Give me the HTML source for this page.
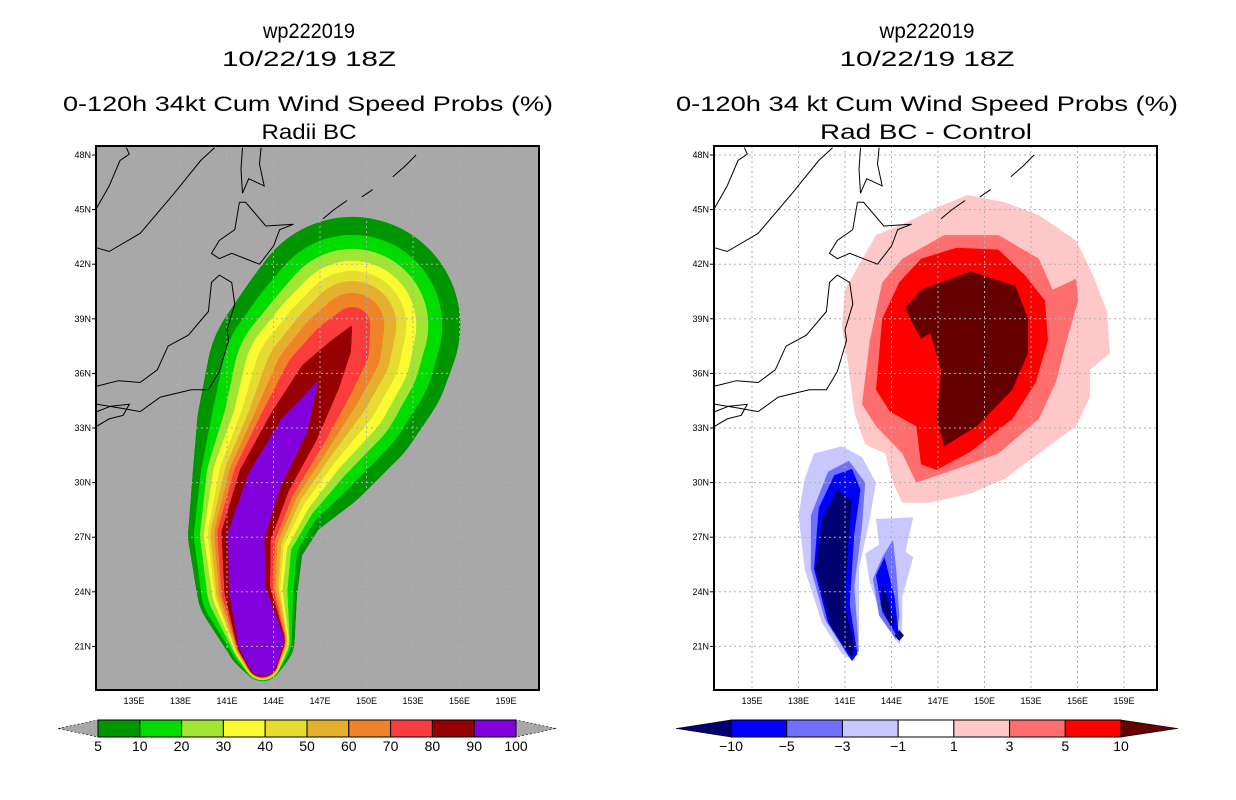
<!DOCTYPE html>
<html><head><meta charset="utf-8"><style>
html,body{margin:0;padding:0;background:#fff;}
svg{display:block;font-family:"Liberation Sans","DejaVu Sans",sans-serif;}
</style></head><body>
<svg id="root" width="1236" height="800" viewBox="0 0 1236 800" xmlns="http://www.w3.org/2000/svg">
<defs>
<clipPath id="clipL"><rect x="96" y="146" width="443" height="544"/></clipPath>
<clipPath id="clipR"><rect x="714" y="146" width="443" height="544"/></clipPath>
</defs>
<g font-size="21" text-anchor="middle" fill="#000">
<text x="309" y="38" textLength="92" lengthAdjust="spacingAndGlyphs">wp222019</text>
<text x="309" y="66" textLength="174" lengthAdjust="spacingAndGlyphs">10/22/19 18Z</text>
<text x="308" y="111" textLength="490" lengthAdjust="spacingAndGlyphs">0-120h 34kt Cum Wind Speed Probs (%)</text>
<text x="309" y="139" textLength="95" lengthAdjust="spacingAndGlyphs">Radii BC</text>
</g>
<g font-size="21" text-anchor="middle" fill="#000">
<text x="927" y="38" textLength="95" lengthAdjust="spacingAndGlyphs">wp222019</text>
<text x="927" y="66" textLength="175" lengthAdjust="spacingAndGlyphs">10/22/19 18Z</text>
<text x="927" y="111" textLength="502" lengthAdjust="spacingAndGlyphs">0-120h 34 kt Cum Wind Speed Probs (%)</text>
<text x="926" y="139" textLength="212" lengthAdjust="spacingAndGlyphs">Rad BC - Control</text>
</g>
<g id="mapL"></g>
<g id="mapR"></g>
<g id="cbL"></g>
<g id="cbR"></g>
</svg>
<script>
const NS="http://www.w3.org/2000/svg";
// ---- data ----
const latTicks=[48,45,42,39,36,33,30,27,24,21];
const lonTicks=[135,138,141,144,147,150,153,156,159];
const probLevels=[5,10,20,30,40,50,60,70,80,90,100];
const probColors=["#009600","#00dc00","#a0e632","#fafa32","#e6dc32","#e6af2d","#f08228","#fa3c3c","#960000","#8200dc"];
const diffLevels=[-10,-5,-3,-1,1,3,5,10];
const diffColors=["#0000ff","#7070ff","#c8c8ff","#ffffff","#ffc8c8","#ff6e6e","#ff0000"];
const diffLowColor="#000070", diffHighColor="#640000";
// storm track centerline [lat,lon]
const trackLat=[20.14,21.35,24.1,27.12,30.14,33.0,35.64,37.29,38.66];
const trackLon=[143.29,143.16,142.3,142.24,143.42,145.26,146.91,148.22,149.08];
// probability swath radii (degrees) per level (5%..90%) at each track point
const radii5 =[1.05,1.87,2.75,3.19,3.96,5.28,6.16,6.16,5.94];
const radii10=[1.02,1.71,2.53,2.86,3.52,4.51,5.34,5.28,4.95];
const radii20=[0.99,1.6,2.2,2.53,3.19,3.85,4.68,4.51,4.18];
const radii30=[0.96,1.54,1.93,2.31,2.86,3.36,4.13,3.96,3.52];
const radii40=[0.94,1.49,1.8,2.1,2.53,2.97,3.58,3.41,2.97];
const radii50=[0.91,1.45,1.7,1.95,2.25,2.59,3.03,2.86,2.42];
const radii60=[0.88,1.4,1.55,1.75,2.0,2.25,2.48,2.31,1.76];
const radii70=[0.85,1.35,1.42,1.58,1.75,1.9,1.93,1.65,0.99];
const radii80=[0.83,1.32,1.25,1.35,1.45,1.45,1.2,0.66,0];
const radii90=[0.77,1.25,1.0,1.0,0.95,0.8,0,0,0];
// difference field contours [lat,lon]
const diffPos1=[[40.6,141.0],[43.6,143.0],[44.2,144.7],[45.1,146.9],[45.8,148.9],[45.4,151.3],[44.7,153.5],[43.3,155.9],[41.4,157.0],[39.4,157.9],[37.1,158.1],[36.2,156.8],[34.7,156.8],[33.1,155.9],[31.6,153.5],[30.2,151.3],[29.4,149.1],[28.9,146.5],[28.9,144.7],[30.0,144.1],[31.6,143.6],[32.1,142.3],[33.9,141.6],[36.2,141.25],[38.6,140.8]];
const diffPos3=[[41.0,143.4],[42.3,144.7],[43.6,147.4],[43.6,150.9],[42.3,153.5],[40.6,154.4],[41.2,155.9],[40.0,156.05],[37.8,155.3],[35.5,154.6],[33.5,153.5],[31.6,150.9],[30.75,148.2],[30.0,145.6],[31.6,144.7],[33.1,143.0],[34.3,142.1],[37.8,142.6]];
const diffPos5=[[41.0,144.5],[42.3,145.9],[42.9,148.2],[42.8,150.9],[41.4,152.6],[40.0,153.9],[37.8,154.1],[35.5,153.3],[33.5,151.8],[31.7,149.1],[30.7,146.9],[31.0,145.9],[33.1,145.6],[33.9,143.9],[35.1,143.0],[39.0,143.4]];
const diffPos10=[[39.6,144.9],[40.6,145.9],[41.6,149.1],[40.8,152.0],[39.0,152.8],[37.1,152.8],[35.1,151.8],[33.1,149.5],[32.0,147.4],[33.5,146.9],[36.2,147.2],[38.2,146.5],[37.9,145.9],[39.0,145.2]];
const diffNegA1=[[31.6,139.0],[32.0,140.8],[31.4,142.1],[30.0,143.0],[28.0,142.6],[25.25,141.9],[21.35,141.9],[20.2,141.6],[20.6,140.8],[22.3,139.5],[25.25,138.4],[28.2,138.0],[30.2,138.4]];
const diffNegA3=[[30.6,139.9],[31.2,141.25],[30.0,142.3],[27.6,142.1],[24.3,141.6],[20.75,141.9],[20.4,141.25],[22.5,139.7],[25.25,138.8],[28.2,138.8]];
const diffNegA5=[[30.4,140.3],[30.75,141.45],[29.6,142.0],[27.2,141.6],[23.3,141.3],[20.6,141.8],[20.2,141.45],[22.3,139.9],[25.25,139.0],[28.6,139.3]];
const diffNegA10=[[29.6,140.5],[29.0,141.45],[27.2,141.25],[23.3,141.0],[21.0,141.6],[20.4,141.45],[22.1,140.1],[25.25,139.1],[28.0,139.5]];
const diffNegB1=[[28.0,143.0],[28.1,145.4],[26.2,144.9],[25.9,145.4],[23.7,144.7],[21.95,144.7],[21.1,144.5],[22.5,143.4],[24.5,142.6],[26.1,142.3],[26.6,143.2]];
const diffNegB3=[[26.85,144.1],[25.25,144.3],[22.7,144.5],[21.35,144.3],[22.7,143.2],[24.7,142.8],[25.9,143.4]];
const diffNegB5=[[25.9,143.55],[23.7,144.2],[21.35,144.5],[22.9,143.4],[24.9,143.0]];
const diffNegB10=[[24.5,143.4],[22.3,144.2],[22.1,143.95],[23.3,143.3]];
const diffNegB10b=[[21.9,144.5],[21.6,144.8],[21.3,144.5],[21.6,144.2]];
// coastlines [lat,lon]
const coasts=[
 [[42.9,132.6],[42.7,133.4],[43.7,135.4],[45.9,137.6],[47.7,139.3],[48.4,140.2]],
 [[45.1,132.6],[46.3,133.4],[47.7,134.1],[48.05,134.7],[48.4,134.5]],
 [[48.4,142.0],[47.2,141.9],[45.9,142.0],[46.7,142.4],[46.3,143.4],[47.5,143.1],[48.4,143.2]],
 [[45.4,141.8],[43.9,141.5],[43.3,140.5],[42.6,140.0],[42.3,140.5],[42.6,141.3],[42.0,143.1],[43.0,144.0],[43.9,144.4],[44.2,145.3],[44.1,143.5],[45.4,142.2],[45.4,141.8]],
 [[41.4,140.5],[41.0,141.3],[39.8,141.5],[38.4,141.0],[37.8,141.1],[36.1,140.5],[35.1,139.8],[35.1,138.7],[34.7,136.7],[33.9,135.4],[34.1,134.1],[34.3,132.6]],
 [[41.4,140.5],[41.0,140.0],[39.4,139.8],[38.1,138.5],[37.5,137.2],[36.2,136.5],[35.5,135.4],[35.6,134.0],[35.3,132.6]],
 [[33.1,132.6],[33.5,133.4],[33.7,134.3],[34.3,134.7],[34.2,133.5],[33.9,132.6]],
 [[44.5,147.2],[45.0,147.9],[45.5,148.75]],
 [[45.7,149.7],[46.1,150.4]],
 [[46.8,151.7],[47.4,152.5],[48.0,153.2]]
];
// ---- helpers ----
function mk(tag,attrs,parent){const e=document.createElementNS(NS,tag);for(const k in attrs)e.setAttribute(k,attrs[k]);parent.appendChild(e);return e;}
function xs(lon,off){return 134+off+(lon-135)*15.5;}
function ys(lat){return 155+(48-lat)*18.2;}
function polyPts(arr,off){return arr.map(p=>xs(p[1],off).toFixed(1)+","+ys(p[0]).toFixed(1)).join(" ");}

function drawMap(g,off,bg,clip){
  const r=mk("rect",{x:96+off,y:146,width:443,height:544,fill:bg},g);
  
  
  const inner=mk("g",{"clip-path":"url(#"+clip+")"},g);
  return inner;
}
function drawGridAndFrame(g,inner,off){
  const grid=mk("g",{stroke:"#b0b0b0","stroke-width":1,"stroke-dasharray":"2,3"},inner);
  
  
  latTicks.forEach(l=>mk("line",{x1:96+off,x2:539+off,y1:ys(l),y2:ys(l)},grid));
  lonTicks.forEach(l=>mk("line",{x1:xs(l,off),x2:xs(l,off),y1:146,y2:690},grid));
  const cg=mk("g",{fill:"none",stroke:"#000","stroke-width":1},inner);
  
  
  coasts.forEach(c=>mk("polyline",{points:polyPts(c,off)},cg));
  const fr=mk("rect",{x:96+off,y:146,width:443,height:544,fill:"none",stroke:"#000","stroke-width":2},g);
  
  
  const ax=mk("g",{"font-size":9,fill:"#000"},g);
  
  
  latTicks.forEach(l=>{
    const t=mk("text",{x:91+off,y:ys(l)+3,"text-anchor":"end"},ax);t.textContent=l+"N";
    
    mk("line",{x1:92+off,x2:96+off,y1:ys(l),y2:ys(l),stroke:"#000"},ax);
  });
  lonTicks.forEach(l=>{
    const t=mk("text",{x:xs(l,off),y:704,"text-anchor":"middle"},ax);t.textContent=l+"E";
    
  });
}
// ---- left map ----
(function(){
  const g=document.getElementById("mapL");
  const inner=drawMap(g,0,"#a8a8a8","clipL");
  const radiiSets=[radii5,radii10,radii20,radii30,radii40,radii50,radii60,radii70,radii80,radii90];
  radiiSets.forEach((rad,li)=>{
    const lg=mk("g",{fill:probColors[li]},inner);
    
    
    const steps=30;
    for(let i=0;i<trackLat.length-1;i++){
      for(let s=0;s<=steps;s++){
        const f=s/steps;
        const la=trackLat[i]+(trackLat[i+1]-trackLat[i])*f;
        const lo=trackLon[i]+(trackLon[i+1]-trackLon[i])*f;
        const rr=(rad[i]+(rad[i+1]-rad[i])*f)*18.2;
        if(rr>0.5) mk("circle",{cx:xs(lo,0).toFixed(1),cy:ys(la).toFixed(1),r:rr.toFixed(1)},lg);
      }
    }
  });
  drawGridAndFrame(g,inner,0);
})();
// ---- right map ----
(function(){
  const off=618;
  const g=document.getElementById("mapR");
  const inner=drawMap(g,off,"#ffffff","clipR");
  const shapes=[[diffPos1,diffColors[4],'diff-1-3'],[diffPos3,diffColors[5],'diff-3-5'],[diffPos5,diffColors[6],'diff-5-10'],[diffPos10,diffHighColor,'diff-over-10'],
   [diffNegA1,diffColors[2],'diff-neg-a-1'],[diffNegA3,diffColors[1],'diff-neg-a-3'],[diffNegA5,diffColors[0],'diff-neg-a-5'],[diffNegA10,diffLowColor,'diff-neg-a-10'],
   [diffNegB1,diffColors[2],'diff-neg-b-1'],[diffNegB3,diffColors[1],'diff-neg-b-3'],[diffNegB5,diffColors[0],'diff-neg-b-5'],[diffNegB10,diffLowColor,'diff-neg-b-10'],[diffNegB10b,diffLowColor,'diff-neg-b-10-tip']];
  shapes.forEach(s=>{
    const p=mk("polygon",{points:polyPts(s[0],off),fill:s[1],"stroke-linejoin":"round"},inner);
    
    
  });
  drawGridAndFrame(g,inner,off);
})();
// ---- colorbars ----
function colorbar(g,x0,x1,tipL,tipR,colors,labels,lowC,highC){
  const y0=720,y1=737,w=(x1-x0)/colors.length,ym=(y0+y1)/2;
  const tl=mk("polygon",{points:`${tipL},${ym} ${x0},${y0} ${x0},${y1}`,fill:lowC,stroke:"#000","stroke-width":0.6,"stroke-dasharray":lowC==="#a8a8a8"?"2,2":"none"},g);
  
  
  const tr=mk("polygon",{points:`${tipR},${ym} ${x1},${y0} ${x1},${y1}`,fill:highC,stroke:"#000","stroke-width":0.6,"stroke-dasharray":highC==="#a8a8a8"?"2,2":"none"},g);
  
  
  colors.forEach((c,i)=>{
    const r=mk("rect",{x:x0+i*w,y:y0,width:w,height:y1-y0,fill:c,stroke:"#000","stroke-width":1},g);
    
    
  });
  labels.forEach((l,i)=>{
    const t=mk("text",{x:x0+i*w,y:751,"text-anchor":"middle","font-size":14,fill:"#000"},g);
    t.textContent=String(l).replace("-","\u2212");
    
    
  });
}
colorbar(document.getElementById("cbL"),98,516,58,556,probColors,probLevels,"#a8a8a8","#a8a8a8");
colorbar(document.getElementById("cbR"),731,1121,676,1178,diffColors,diffLevels,diffLowColor,diffHighColor);
</script>
</body></html>
